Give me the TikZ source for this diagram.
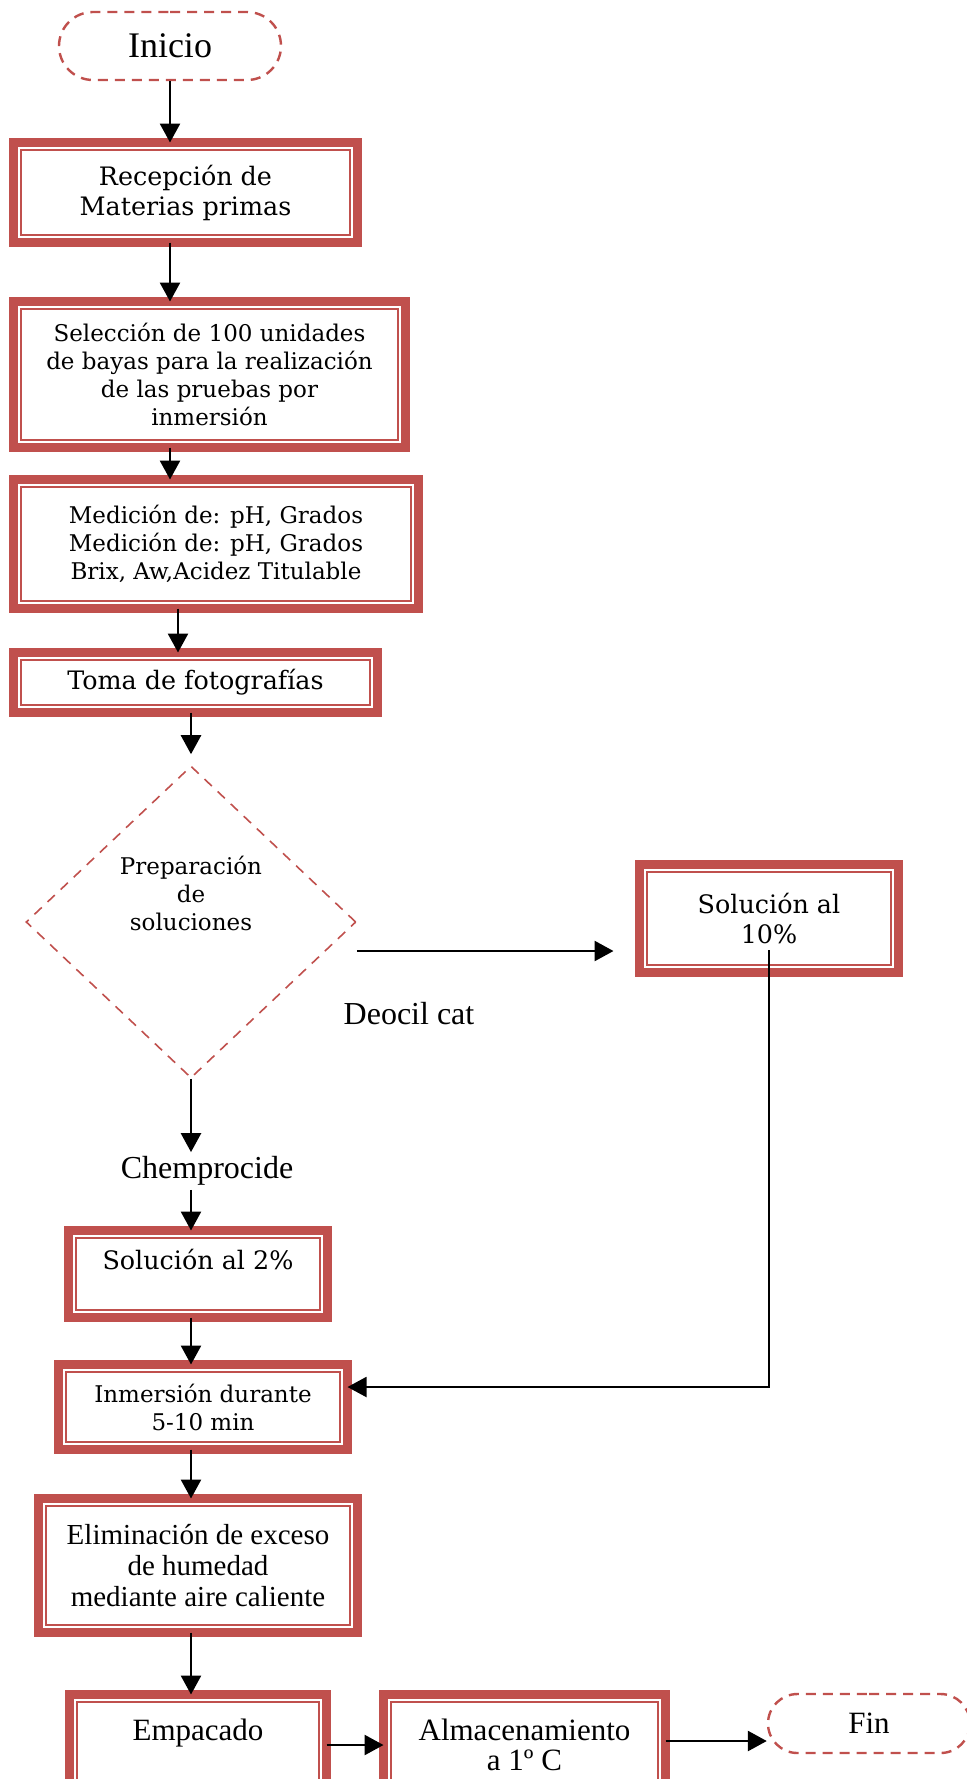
\documentclass[tikz,border=0pt]{standalone}
\usepackage{fontspec}
\setmainfont{Liberation Serif}
\newfontfamily\bookfont{DejaVu Serif}
\usetikzlibrary{positioning}
\usetikzlibrary{shapes.geometric}
\usetikzlibrary{shapes.misc}
\usetikzlibrary{arrows.meta}
\definecolor{flow-red}{HTML}{C0504D}

\begin{document}
\begin{tikzpicture}[x=0.5pt, y=-0.5pt,
  procbox/.style={draw=flow-red, line width=4.5pt, fill=white, inner sep=0pt, outer sep=0pt,
    align=center, font=\bookfont\fontsize{11.5}{14}\selectfont},
  big text/.style={font=\bookfont\fontsize{12.7}{15}\selectfont},
  termbox/.style={draw=flow-red, rounded rectangle, line width=1.2pt, dash pattern=on 5pt off 3.5pt,
    inner sep=0pt, font=\fontsize{18}{20}\selectfont},
  text only/.style={inner sep=2pt, align=center},
  arr/.style={-{Triangle[length=9.5pt,width=10pt]}, line width=1.3pt}]
\useasboundingbox (0,0) rectangle (966,1779);
% start
\node[termbox, minimum width=111pt, minimum height=34pt]
  (inicio)
  at (170, 46)
  {Inicio};
\node[procbox, big text, minimum width=172pt, minimum height=50pt]
  (recep)
  at (185.5, 192.5)
  {Recepción de\\Materias primas};
\node[procbox, minimum width=196pt, minimum height=73pt]
  (selec)
  at (209.5, 374.5)
  {Selección de 100 unidades\\de bayas para la realización\\de las pruebas por\\inmersión};
\node[procbox, minimum width=202.5pt, minimum height=64.5pt]
  (medic)
  at (216, 544)
  {Medición de: pH, Grados\\Medición de: pH, Grados\\Brix, Aw,Acidez Titulable};
\node[procbox, big text, minimum width=182pt, minimum height=30pt]
  (toma)
  at (195.5, 682.5)
  {Toma de fotografías};
% decision
\node[draw=flow-red, diamond, line width=0.8pt, dash pattern=on 5pt off 4pt, inner sep=0pt,
  minimum width=165pt, minimum height=156pt]
  (prep)
  at (191, 922)
  {};
\node[text only, font=\bookfont\fontsize{11.5}{14}\selectfont]
  (prep-text)
  at (191, 893)
  {Preparación\\de\\soluciones};
\node[procbox, big text, minimum width=129.5pt, minimum height=54pt]
  (sol10)
  at (769, 918.5)
  {Solución al\\10\%};
\node[text only, font=\fontsize{16}{19}\selectfont]
  (deocil)
  at (409, 1014)
  {Deocil cat};
\node[text only, font=\fontsize{16}{19}\selectfont]
  (chem)
  at (207, 1171)
  {Chemprocide};
\node[procbox, big text, minimum width=129.5pt, minimum height=43.5pt]
  (sol2)
  at (198, 1274)
  {Solución al 2\%\\\mbox{}};
\node[procbox, minimum width=144.5pt, minimum height=42.5pt]
  (inmer)
  at (203, 1407)
  {Inmersión durante\\5-10 min};
\node[procbox, minimum width=159.5pt, minimum height=67pt, font=\fontsize{14.5}{15.5}\selectfont]
  (elim)
  at (198, 1565.5)
  {Eliminación de exceso\\de humedad\\mediante aire caliente};
\node[procbox, minimum width=128.5pt, minimum height=50.5pt, font=\fontsize{15.5}{15}\selectfont]
  (empac)
  at (198, 1745)
  {Empacado\\\mbox{}};
\node[procbox, minimum width=141pt, minimum height=50.5pt, font=\fontsize{15.5}{15}\selectfont]
  (almac)
  at (524.5, 1745)
  {Almacenamiento\\a 1º C};
\node[termbox, minimum width=101pt, minimum height=29.5pt, font=\fontsize{15.5}{18}\selectfont]
  (fin)
  at (869, 1723.5)
  {Fin};
% inner frames
\foreach \n in {recep,selec,medic,toma,sol10,sol2,inmer,elim,empac,almac}
  \draw[flow-red, line width=1pt]
    ([shift={(3.75pt,3.75pt)}]\n.south west) rectangle ([shift={(-3.75pt,-3.75pt)}]\n.north east);
% connectors
\draw[arr] (inicio.south) -- (inicio.south |- recep.north);
\draw[arr] (inicio.south |- recep.south) -- (inicio.south |- selec.north);
\draw[arr] (inicio.south |- selec.south) -- (inicio.south |- medic.north);
\draw[arr] ([xshift=-19pt]medic.south) -- ([xshift=-19pt]medic.south |- toma.north);
\draw[arr, shorten >=5.5pt] (toma.south -| prep.north) -- (prep.north);
\draw[arr, shorten >=13pt] ([yshift=-14.5pt]prep.east) -- ([yshift=-14.5pt]prep.east -| sol10.west);
\draw[arr] (prep.south) -- (prep.south |- chem.north);
\draw[arr] (prep.south |- chem.south) -- (prep.south |- sol2.north);
\draw[arr] (prep.south |- sol2.south) -- (prep.south |- inmer.north);
\draw[arr, line width=1pt] ([yshift=-15.75pt]sol10.center) |- ([yshift=10pt]inmer.east);
\draw[arr] (prep.south |- inmer.south) -- (prep.south |- elim.north);
\draw[arr] (prep.south |- elim.south) -- (prep.south |- empac.north);
\draw[arr] (empac.east) -- (almac.west);
\draw[arr] ([yshift=2pt]almac.east) -- ([yshift=2pt]almac.east -| fin.west);
\end{tikzpicture}
\end{document}
